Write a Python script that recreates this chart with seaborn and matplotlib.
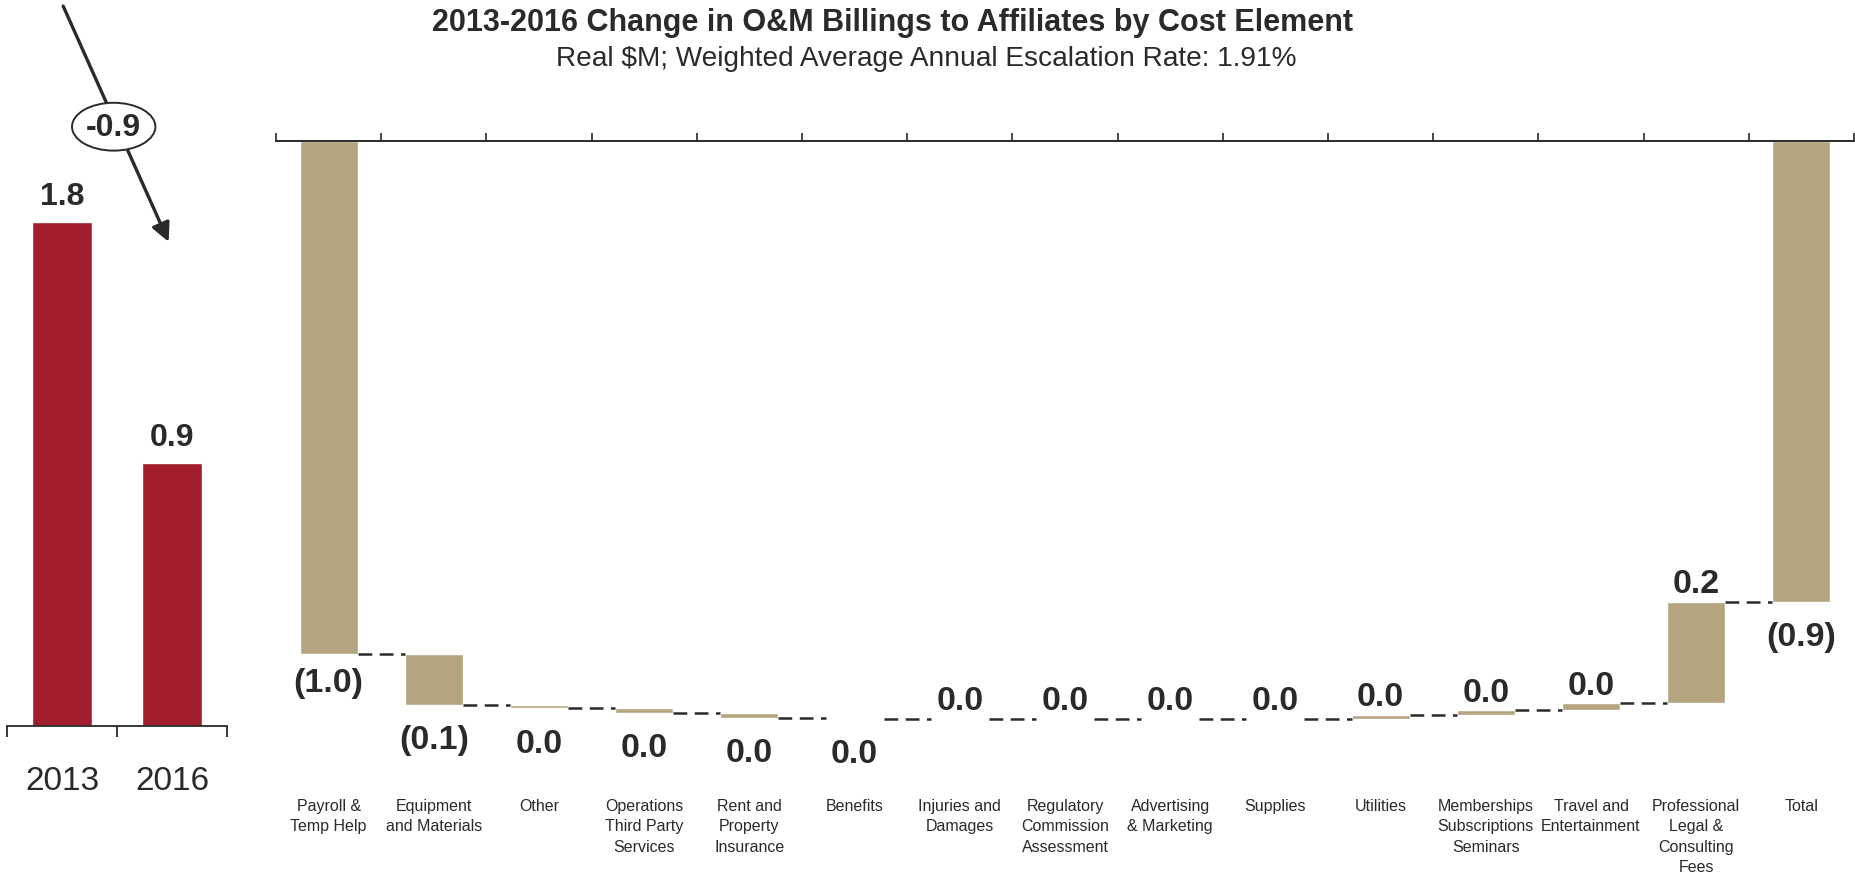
import numpy as np
import pandas as pd
import matplotlib
matplotlib.use('Agg')
import matplotlib.pyplot as plt
import seaborn as sns

# left panel: annual totals
years = ['2013', '2016']
year_totals = [1.80, 0.94]

# right panel: change by cost element (Real $M)
categories = [
    'Payroll &\nTemp Help', 'Equipment\nand Materials', 'Other',
    'Operations\nThird Party\nServices', 'Rent and\nProperty\nInsurance',
    'Benefits', 'Injuries and\nDamages', 'Regulatory\nCommission\nAssessment',
    'Advertising\n& Marketing', 'Supplies', 'Utilities',
    'Memberships\nSubscriptions\nSeminars', 'Travel and\nEntertainment',
    'Professional\nLegal &\nConsulting\nFees',
]
changes = [-1.01, -0.10, -0.007, -0.009, -0.009, -0.002, 0.0, 0.0, 0.0, 0.0,
           0.007, 0.009, 0.014, 0.20]
total_label = 'Total'

RED = '#A11D2B'
TAN = '#B5A57F'
INK = '#2a2a2a'

sns.set_style('white')
plt.rcParams['font.family'] = ['Liberation Sans', 'DejaVu Sans']


def fmt(v):
    r = round(v, 1)
    if r < 0:
        return f'({abs(r):.1f})'
    return f'{abs(r):.1f}'


fig = plt.figure(figsize=(18.55, 8.78), dpi=100)
W, H = 1855, 878

# ---------------- left panel ----------------
ax1 = fig.add_axes([7 / W, (H - 727) / H, 220 / W, 727 / H])
sns.barplot(x=years, y=year_totals, color=RED, width=0.55, saturation=1,
            errorbar=None, ax=ax1)
ax1.set_xlim(-0.5, 1.5)
ax1.set_ylim(0, 2.596)
for i, v in enumerate(year_totals):
    ax1.annotate(f'{v:.1f}', (i, v), xytext=(0, 8), textcoords='offset points',
                 ha='center', va='bottom', fontsize=23, fontweight='bold', color=INK)

diff = year_totals[1] - year_totals[0]
ax1.annotate('', xy=(0.98, 1.72), xytext=(0.0, 2.58),
             arrowprops=dict(arrowstyle='-|>', lw=2.4, color=INK, mutation_scale=28),
             annotation_clip=False)
ax1.text(0.47, 2.14, f'{diff:.1f}', ha='center', va='center', fontsize=23,
         fontweight='bold', color=INK,
         bbox=dict(boxstyle='ellipse,pad=0.06', fc='white', ec=INK, lw=1.4))

ax1.set_yticks([])
ax1.set_xticks([-0.5, 0.5, 1.5], minor=True)
ax1.tick_params(axis='x', which='major', length=0, pad=28, labelsize=24, labelcolor=INK)
ax1.tick_params(axis='x', which='minor', bottom=True, direction='out', length=8,
                width=1.3, color=INK)
for s in ['top', 'left', 'right']:
    ax1.spines[s].set_visible(False)
ax1.spines['bottom'].set_color(INK)
ax1.spines['bottom'].set_linewidth(1.3)
ax1.set_xlabel('')
ax1.set_ylabel('')

# ---------------- right panel: waterfall ----------------
ends = np.cumsum(changes)
starts = ends - np.array(changes)
total = ends[-1]

df = pd.DataFrame({
    'category': categories + [total_label],
    'height': list(changes) + [total],
    'bottom': list(starts) + [0.0],
})

ax2 = fig.add_axes([276 / W, (H - 785) / H, 1578 / W, 643 / H])
sns.barplot(data=df, x='category', y='height', bottom=df['bottom'].values,
            color=TAN, width=0.55, saturation=1, errorbar=None, ax=ax2)
ax2.set_xlim(-0.5, len(df) - 0.5)
ax2.set_ylim(-643 / 508, 0)

bw = 0.55
levels = list(ends) + [total]
for i in range(len(df) - 1):
    lvl = levels[i]
    ax2.plot([i + bw / 2, i + 1 - bw / 2], [lvl, lvl], color=INK, lw=1.8,
             ls=(0, (5.5, 3)))

for i, row in df.iterrows():
    v = row['height']
    lo = min(row['bottom'], row['bottom'] + v)
    hi = max(row['bottom'], row['bottom'] + v)
    if v < 0:
        off = -9 if i == 0 else -14
        ax2.annotate(fmt(v), (i, lo), xytext=(0, off), textcoords='offset points',
                     ha='center', va='top', fontsize=24.5, fontweight='bold', color=INK)
    else:
        ax2.annotate(fmt(v), (i, hi), xytext=(0, 2), textcoords='offset points',
                     ha='center', va='bottom', fontsize=24.5, fontweight='bold', color=INK)

ax2.set_yticks([])
ax2.set_xticks(np.arange(-0.5, len(df)), minor=True)
ax2.tick_params(axis='x', which='major', length=0, pad=10, labelsize=11.5, labelcolor=INK)
ax2.tick_params(axis='x', which='minor', top=True, bottom=False, direction='out',
                length=6, width=1.2, color=INK)
for lab in ax2.get_xticklabels():
    lab.set_linespacing(1.45)
for s in ['bottom', 'left', 'right']:
    ax2.spines[s].set_visible(False)
ax2.spines['top'].set_color(INK)
ax2.spines['top'].set_linewidth(1.4)
ax2.set_xlabel('')
ax2.set_ylabel('')

# ---------------- titles ----------------
fig.text(893 / W, 1 - 23 / H, '2013-2016 Change in O&M Billings to Affiliates by Cost Element',
         ha='center', va='center', fontsize=22, fontweight='bold', color=INK)
fig.text(926 / W, 1 - 59 / H, 'Real $M; Weighted Average Annual Escalation Rate: 1.91%',
         ha='center', va='center', fontsize=20.2, color=INK)

fig.savefig('out.png', dpi=100, facecolor='white')
